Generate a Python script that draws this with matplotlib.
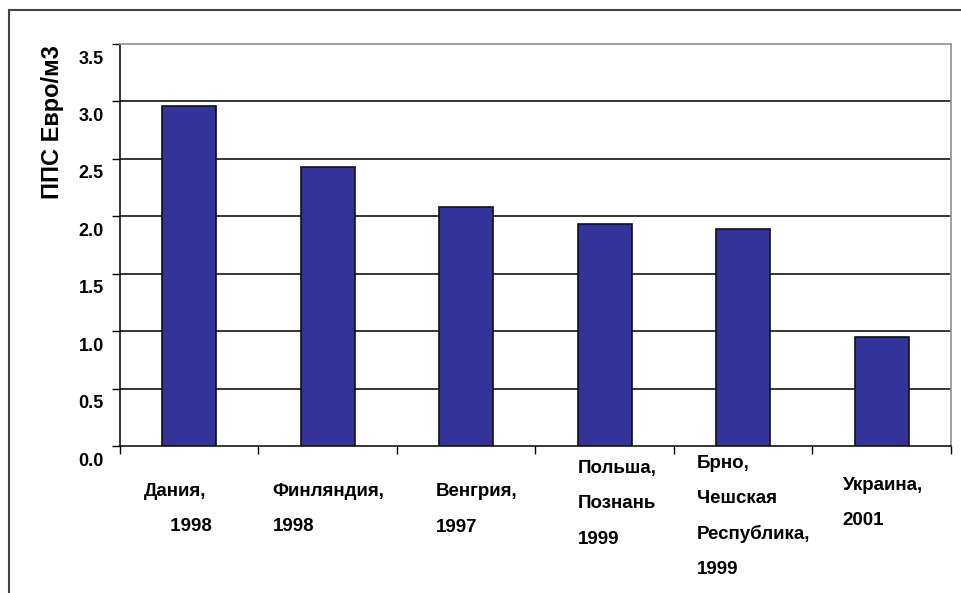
import matplotlib
matplotlib.use("Agg")
import matplotlib.pyplot as plt
from matplotlib import transforms
from matplotlib.lines import Line2D

plt.rcParams['font.family'] = ['Liberation Sans', 'DejaVu Sans']
plt.rcParams['font.weight'] = 'bold'

# Data
categories = [
    "Дания,\n     1998",
    "Финляндия,\n1998",
    "Венгрия,\n1997",
    "Польша,\nПознань\n1999",
    "Брно,\nЧешская\nРеспублика,\n1999",
    "Украина,\n2001",
]
values = [2.96, 2.43, 2.08, 1.93, 1.89, 0.95]
yticks = [0.0, 0.5, 1.0, 1.5, 2.0, 2.5, 3.0, 3.5]
ylabel = "ППС Евро/м3"

# Label layout: left offset from category centre and first-line drop below axis (pixels)
label_dx = [-45, -55, -30, -27, -46, -39]
label_dy = [45, 45, 46, 22, 17, 39]
line_pitch = 35.5

W, H = 962, 593
fig = plt.figure(figsize=(W / 100, H / 100), dpi=100)
fig.patch.set_facecolor('white')

left_px, right_px, top_px, bottom_px = 120, 951, 44, 446
ax = fig.add_axes([left_px / W, 1 - bottom_px / H,
                   (right_px - left_px) / W, (bottom_px - top_px) / H])

x = list(range(len(values)))
ax.bar(x, values, width=0.39, color='#333399', edgecolor='#111111', linewidth=1.2, zorder=3)

ax.set_xlim(-0.5, len(values) - 0.5)
ax.set_ylim(0, 3.5)

# Horizontal gridlines
for v in yticks[1:-1]:
    ax.axhline(v, color='black', linewidth=1.1, zorder=1)

for side in ('left', 'bottom'):
    ax.spines[side].set_color('black')
    ax.spines[side].set_linewidth(1.1)
for side in ('top', 'right'):
    ax.spines[side].set_color('#999999')
    ax.spines[side].set_linewidth(1.3)

# Y ticks; labels sit a little below their tick
ax.set_yticks(yticks)
ax.set_yticklabels([])
ax.tick_params(axis='y', direction='out', length=6, width=1, color='black')
ytrans = transforms.offset_copy(ax.get_yaxis_transform(), fig=fig, x=-16, y=-15, units='dots')
for v in yticks:
    ax.text(0, v, f"{v:.1f}", transform=ytrans, ha='right', va='center',
            fontsize=13, fontweight='bold')

# X ticks at category boundaries
ax.set_xticks([i - 0.5 for i in range(len(values) + 1)])
ax.set_xticklabels([])
ax.tick_params(axis='x', direction='out', length=6, width=1, color='black')

# Category labels, line by line
xtrans_base = ax.get_xaxis_transform()
for i, lab in enumerate(categories):
    for j, line in enumerate(lab.split("\n")):
        t = transforms.offset_copy(xtrans_base, fig=fig, x=label_dx[i],
                                   y=-(label_dy[i] + j * line_pitch), units='dots')
        ax.text(i, 0, line, transform=t, ha='left', va='center',
                fontsize=13.5, fontweight='bold')

fig.text(53 / W, 1 - 122 / H, ylabel, rotation=90, ha='center', va='center',
         fontsize=17, fontweight='bold')

# Outer chart frame
fig.add_artist(Line2D([9 / W, 1.0], [1 - 10 / H, 1 - 10 / H], transform=fig.transFigure,
                      color='#444444', linewidth=1.5))
fig.add_artist(Line2D([9 / W, 9 / W], [1 - 10 / H, 0.0], transform=fig.transFigure,
                      color='#444444', linewidth=1.5))

fig.savefig("out.png", dpi=100)
